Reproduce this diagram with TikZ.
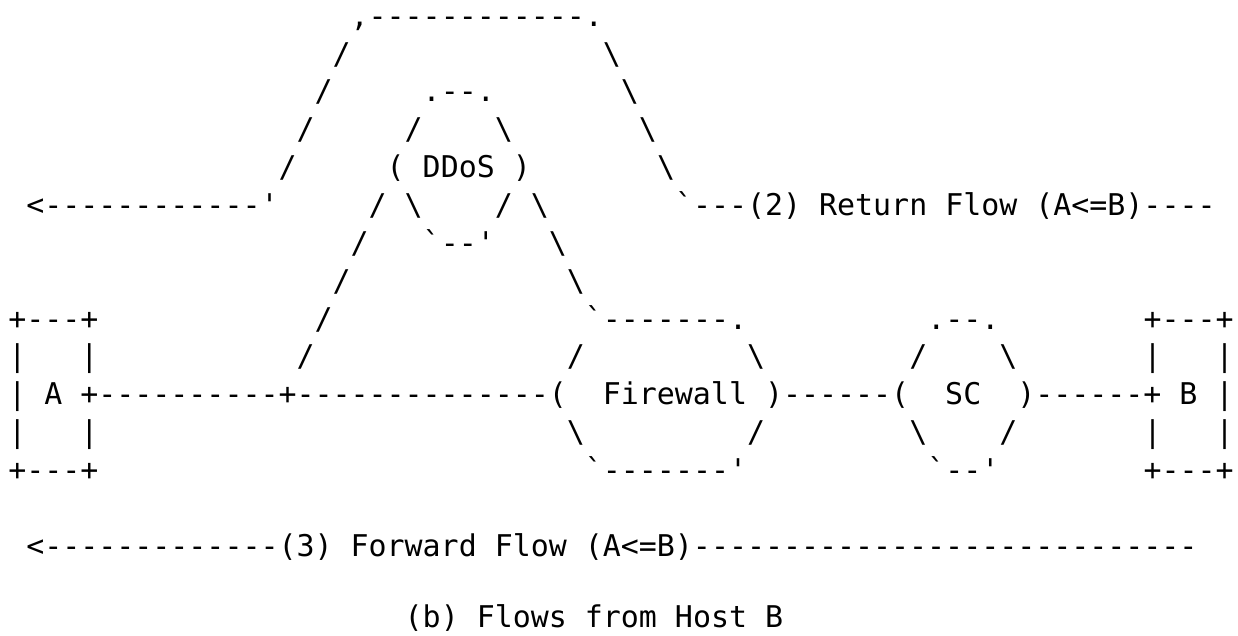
\documentclass[tikz,border=0pt]{standalone}
\usepackage{fontspec}
\setmonofont{DejaVu Sans Mono}
\newcommand\sk[1]{\hspace*{#1\fontcharwd\font`\x}}
\newcommand\bs{\textbackslash}
\begin{document}
\begin{tikzpicture}[x=1pt,y=1pt,
  asciirow/.style={anchor=base west, inner sep=0pt, outer sep=0pt,
    font=\ttfamily\fontsize{29.93}{36}\selectfont}]
\fill[white] (0,0) rectangle (1238,636);
\useasboundingbox (0,0) rectangle (1238,636);
\def\lx{8.3}
\def\by#1{{636-26.25-37.85*(#1-1)}}
\node[asciirow] (r1) at (\lx,\by{1}) {\sk{19},------------.};
\node[asciirow] (r2) at (\lx,\by{2}) {\sk{18}/\sk{14}\bs};
\node[asciirow] (r3) at (\lx,\by{3}) {\sk{17}/\sk{5}.--.\sk{7}\bs};
\node[asciirow] (r4) at (\lx,\by{4}) {\sk{16}/\sk{5}/\sk{4}\bs\sk{7}\bs};
\node[asciirow] (r5) at (\lx,\by{5}) {\sk{15}/\sk{5}(\sk{1}DDoS\sk{1})\sk{7}\bs};
\node[asciirow] (r6) at (\lx,\by{6}) {\sk{1}<------------'\sk{5}/\sk{1}\bs\sk{4}/\sk{1}\bs\sk{7}`---(2)\sk{1}Return\sk{1}Flow\sk{1}(A<=B)----};
\node[asciirow] (r7) at (\lx,\by{7}) {\sk{19}/\sk{3}`--'\sk{3}\bs};
\node[asciirow] (r8) at (\lx,\by{8}) {\sk{18}/\sk{12}\bs};
\node[asciirow] (r9) at (\lx,\by{9}) {+---+\sk{12}/\sk{14}`-------.\sk{10}.--.\sk{8}+---+};
\node[asciirow] (r10) at (\lx,\by{10}) {|\sk{3}|\sk{11}/\sk{14}/\sk{9}\bs\sk{8}/\sk{4}\bs\sk{7}|\sk{3}|};
\node[asciirow] (r11) at (\lx,\by{11}) {|\sk{1}A\sk{1}+----------+--------------(\sk{2}Firewall\sk{1})------(\sk{2}SC\sk{2})------+\sk{1}B\sk{1}|};
\node[asciirow] (r12) at (\lx,\by{12}) {|\sk{3}|\sk{26}\bs\sk{9}/\sk{8}\bs\sk{4}/\sk{7}|\sk{3}|};
\node[asciirow] (r13) at (\lx,\by{13}) {+---+\sk{27}`-------'\sk{10}`--'\sk{8}+---+};
\node[asciirow] (r15) at (\lx,\by{15}) {\sk{1}<-------------(3)\sk{1}Forward\sk{1}Flow\sk{1}(A<=B)----------------------------};
\node[asciirow] (r17) at (\lx,8.15) {\sk{22}(b)\sk{1}Flows\sk{1}from\sk{1}Host\sk{1}B};
\end{tikzpicture}
\end{document}
